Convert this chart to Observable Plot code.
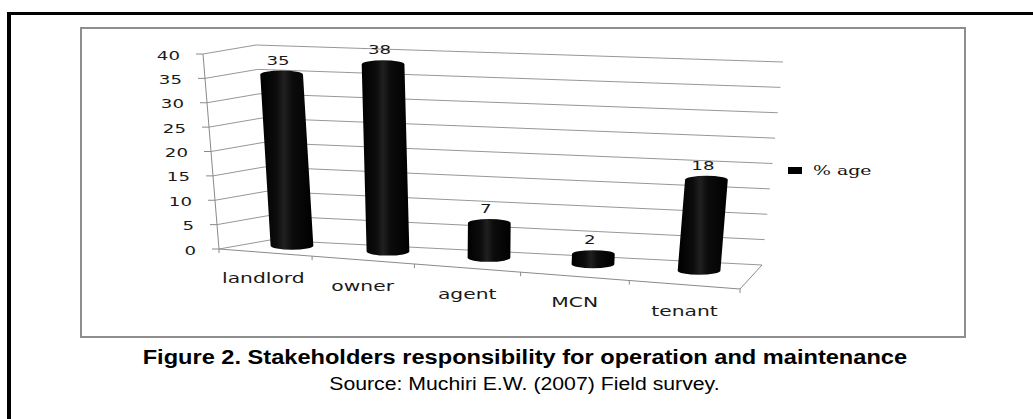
<!DOCTYPE html>
<html>
<head>
<meta charset="utf-8">
<script src="https://cdn.jsdelivr.net/npm/d3@7"></script>
<script src="https://cdn.jsdelivr.net/npm/@observablehq/plot@0.6"></script>
<style>
  html, body { margin: 0; padding: 0; background: #fff; }
  body { width: 1033px; height: 419px; position: relative; overflow: hidden; font-family: "DejaVu Sans", sans-serif; }
  #outer { position: absolute; left: 7px; top: 12px; width: 1100px; height: 500px; border-left: 4px solid #000; border-top: 3px solid #000; }
  #frame { position: absolute; left: 80px; top: 27px; width: 886px; height: 311px; box-sizing: border-box; border: 2px solid #8e8e8e; }
  #chart { position: absolute; left: 0; top: 0; }
  #legend { position: absolute; left: 788px; top: 162px; height: 16px; width: 120px; }
  #key { position: absolute; left: 0; top: 5px; width: 14px; height: 7px; background: #000; }
  #lbl { position: absolute; left: 25px; top: 0; font: 13.5px "DejaVu Serif", serif; line-height: 16px; transform: scaleX(1.4); transform-origin: 0 50%; white-space: nowrap; color: #111; }
  #title { position: absolute; left: 0; width: 1050px; top: 347px; text-align: center; font: bold 19.5px "Liberation Sans", Arial, sans-serif; line-height: 20px; color: #000; }
  #title span { display: inline-block; transform: scaleX(1.21); white-space: nowrap; }
  #source { position: absolute; left: 0; width: 1048px; top: 375px; text-align: center; font: 18px "Liberation Sans", Arial, sans-serif; line-height: 18px; color: #000; }
  #source span { display: inline-block; transform: scaleX(1.18); white-space: nowrap; }
</style>
</head>
<body>
<div id="outer"></div>
<div id="frame"></div>
<div id="chart"></div>
<div id="legend"><span id="key"></span><span id="lbl"></span></div>
<div id="title"><span></span></div>
<div id="source"><span></span></div>
<script>
// ---- data ----
const categories = ["landlord", "owner", "agent", "MCN", "tenant"];
const values = [35, 38, 7, 2, 18];
const yTicks = [0, 5, 10, 15, 20, 25, 30, 35, 40];
const seriesName = "% age";
const titleText = "Figure 2. Stakeholders responsibility for operation and maintenance";
const sourceText = "Source: Muchiri E.W. (2007) Field survey.";

const data = categories.map((c, i) => ({category: c, value: values[i]}));

// ---- 3D box corners (screen) used for the oblique/perspective look ----
const FLB = [219, 249], FLT = [203, 54], FRB = [740, 289], FRT = [759, 86];
const BLB = [270, 240], BLT = [256, 45], BRB = [762, 265], BRT = [783, 62];
const WB = 0.6;   // depth of the cylinders inside the box
const RY = 4;     // elliptical cap radius
const lerp = (a, b, s) => [a[0] + (b[0] - a[0]) * s, a[1] + (b[1] - a[1]) * s];
function pt(u, t, w) {
  const uu = Math.sign(u) * Math.pow(Math.abs(u), 1.07);
  const FB = lerp(FLB, FRB, uu), FT = lerp(FLT, FRT, uu);
  const BB = lerp(BLB, BRB, uu), BT = lerp(BLT, BRT, uu);
  return lerp(lerp(FB, FT, t), lerp(BB, BT, t), w);
}

const GRID = "#979797", AXIS = "#8a8a8a", TXT = "#1a1a1a";

const chart = Plot.plot({
  width: 1033,
  height: 340,
  marginLeft: 219, marginRight: 293, marginTop: 54, marginBottom: 91,
  x: {type: "band", domain: categories, paddingInner: 0.59, paddingOuter: 0.295, round: false, axis: null},
  y: {type: "linear", domain: [0, 40], axis: null},
  style: {background: "transparent", overflow: "visible", fontFamily: "'DejaVu Sans', sans-serif"},
  marks: [
    Plot.ruleY(yTicks, {y: d => d, stroke: GRID, strokeWidth: 1, ariaDescription: "back-wall-grid"}),
    Plot.ruleY(yTicks, {y: d => d, stroke: GRID, strokeWidth: 1, ariaDescription: "side-wall-grid"}),
    Plot.frame({stroke: AXIS, strokeWidth: 1, ariaDescription: "box"}),
    Plot.ruleY(yTicks, {y: d => d, stroke: AXIS, strokeWidth: 1, ariaDescription: "y-ticks"}),
    Plot.ruleX(categories, {x: d => d, stroke: AXIS, strokeWidth: 1, ariaDescription: "x-ticks"}),
    Plot.barY(data, {x: "category", y: "value", fill: "#000", ariaDescription: "cylinders"}),
    Plot.text(data, {x: "category", y: "value", text: d => String(d.value), fontSize: 13, fill: TXT, ariaDescription: "value-labels"}),
    Plot.text(categories, {x: d => d, frameAnchor: "bottom", text: d => d, fontSize: 14, fill: TXT, ariaDescription: "category-labels"}),
    Plot.text(yTicks, {y: d => d, frameAnchor: "left", text: d => String(d), fontSize: 13, fill: TXT, ariaDescription: "y-labels"})
  ]
});

document.getElementById("chart").appendChild(chart);
document.getElementById("lbl").textContent = seriesName;
document.querySelector("#title span").textContent = titleText;
document.querySelector("#source span").textContent = sourceText;

// ---- project Plot's flat scale output into the 3D box ----
const root = chart;
const NS = "http://www.w3.org/2000/svg";
const inv = root.getScreenCTM().inverse();
const P = (el, x, y) => { const m = inv.multiply(el.getScreenCTM()); return [m.a * x + m.c * y + m.e, m.b * x + m.d * y + m.f]; };
const num = (el, a) => {
  const v = el.getAttribute(a);
  if (v == null || /[a-z%]/i.test(v)) return 0;
  const n = parseFloat(v);
  return isFinite(n) ? n : 0;
};
const group = name => root.querySelector(`[aria-description="${name}"]`);

// frame gives the flat plot extent
const frameEl = group("box");
const frameRect = frameEl.tagName.toLowerCase() === "rect" ? frameEl : frameEl.querySelector("rect");
const fx = num(frameRect, "x"), fy = num(frameRect, "y"), fw = num(frameRect, "width"), fh = num(frameRect, "height");
const [X0, Y1] = P(frameRect, fx, fy);
const [X1, Y0] = P(frameRect, fx + fw, fy + fh);
const U = x => (x - X0) / (X1 - X0);
const T = y => (Y0 - y) / (Y0 - Y1);

// frame -> y-axis line + floor front and right edges
{
  const path = document.createElementNS(NS, "path");
  const a = pt(0, 1, 0), b = pt(0, 0, 0), c = pt(1, 0, 0), d = pt(1, 0, 1);
  path.setAttribute("d", `M${a}L${b}L${c}L${d}`);
  path.setAttribute("fill", "none");
  path.setAttribute("stroke", AXIS);
  path.setAttribute("stroke-width", 1);
  if (frameEl !== frameRect) frameEl.removeAttribute("transform");
  frameRect.replaceWith(path);
}

function processLines(name, fn) {
  const g = group(name);
  const lines = [...g.querySelectorAll("line")];
  const pts = lines.map(l => [P(l, num(l, "x1"), num(l, "y1")), P(l, num(l, "x2"), num(l, "y2"))]);
  g.removeAttribute("transform");
  lines.forEach((l, i) => {
    const [a, b] = fn(pts[i], i, pts);
    l.setAttribute("x1", a[0]); l.setAttribute("y1", a[1]);
    l.setAttribute("x2", b[0]); l.setAttribute("y2", b[1]);
  });
  return {g, lines, pts};
}

processLines("back-wall-grid", ([a]) => { const t = T(a[1]); return [pt(0, t, 1), pt(1, t, 1)]; });
processLines("side-wall-grid", ([a]) => { const t = T(a[1]); return [pt(0, t, 0), pt(0, t, 1)]; });
processLines("y-ticks", ([a]) => { const p = pt(0, T(a[1]), 0); return [[p[0] - 7, p[1]], p]; });
{
  let step = 0;
  const res = processLines("x-ticks", ([a], i, pts) => {
    step = U(pts[1][0][0]) - U(pts[0][0][0]);
    const p = pt(U(a[0]) + step / 2, 0, 0);
    return [p, [p[0], p[1] + 4]];
  });
  const first = res.lines[0].cloneNode();
  const p = pt(U(res.pts[0][0][0]) - step / 2, 0, 0);
  first.setAttribute("x1", p[0]); first.setAttribute("y1", p[1]);
  first.setAttribute("x2", p[0]); first.setAttribute("y2", p[1] + 4);
  res.g.appendChild(first);
}

// gradient for cylinders
{
  const defs = d3.select(root).insert("defs", ":first-child");
  const grad = defs.append("linearGradient").attr("id", "cyl").attr("x1", 0).attr("x2", 1).attr("y1", 0).attr("y2", 0);
  [[0, "#000"], [0.3, "#0c0c0c"], [0.45, "#202020"], [0.6, "#0c0c0c"], [1, "#000"]]
    .forEach(([o, c]) => grad.append("stop").attr("offset", o).attr("stop-color", c));
}

// bars -> cylinders
{
  const g = group("cylinders");
  const rects = [...g.querySelectorAll("rect")];
  const geo = rects.map(r => {
    const x = num(r, "x"), y = num(r, "y"), w = num(r, "width"), h = num(r, "height");
    const a = P(r, x, y), b = P(r, x + w, y + h);
    return {uc: U((a[0] + b[0]) / 2), tt: T(a[1]), tb: T(b[1]), rad: Math.abs(b[0] - a[0]) / 2};
  });
  g.removeAttribute("transform");
  rects.forEach((r, i) => {
    const {uc, tt, tb, rad} = geo[i];
    const base = pt(uc, tb, WB), top = pt(uc, tt, WB);
    const path = document.createElementNS(NS, "path");
    path.setAttribute("d",
      `M${top[0] - rad},${top[1]} L${base[0] - rad},${base[1]} ` +
      `A${rad},${RY} 0 0 0 ${base[0] + rad},${base[1]} ` +
      `L${top[0] + rad},${top[1]} A${rad},${RY} 0 0 0 ${top[0] - rad},${top[1]} Z`);
    path.setAttribute("fill", "url(#cyl)");
    r.replaceWith(path);
  });
}

function processTexts(name, fn, sx, anchor) {
  const g = group(name);
  const texts = [...g.querySelectorAll("text")];
  const pos = texts.map(t => P(t, num(t, "x"), num(t, "y")));
  g.removeAttribute("transform");
  texts.forEach((t, i) => {
    const [X, Y] = fn(pos[i], i);
    t.removeAttribute("x"); t.removeAttribute("y");
    t.setAttribute("transform", `translate(${X},${Y}) scale(${sx},1)`);
    t.setAttribute("text-anchor", anchor);
    t.setAttribute("dy", "0.35em");
  });
}

processTexts("value-labels", ([x, y]) => { const p = pt(U(x), T(y), WB); return [p[0] - 4, p[1] - RY - 11]; }, 1.4, "middle");
processTexts("category-labels", ([x]) => { const p = pt(U(x), 0, 0); return [p[0], p[1] + 26]; }, 1.45, "middle");
processTexts("y-labels", ([, y]) => { const p = pt(0, T(y), 0); return [p[0] - 23, p[1] + 1]; }, 1.4, "end");
</script>
</body>
</html>
